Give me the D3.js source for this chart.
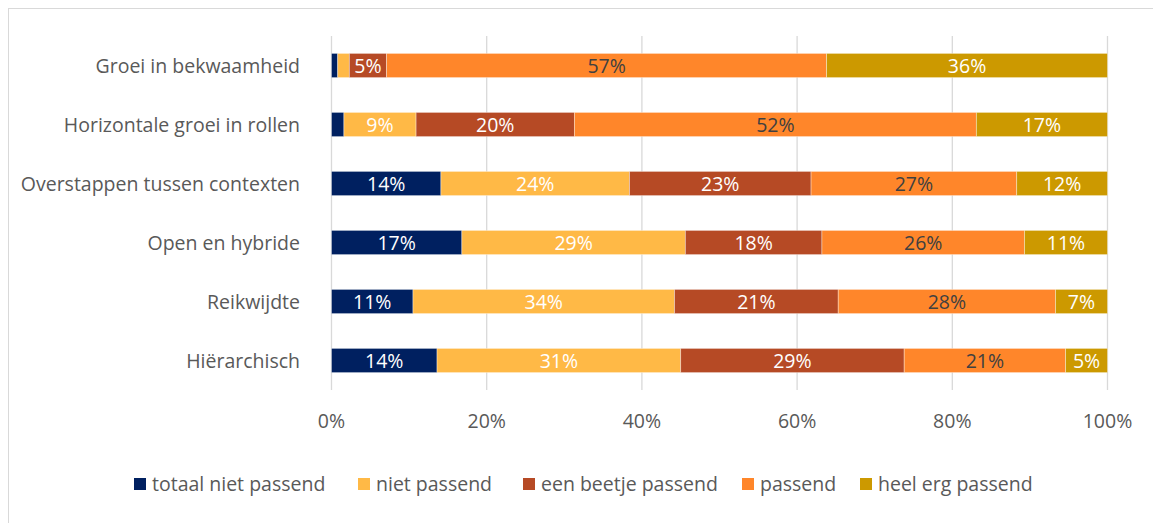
<!DOCTYPE html>
<html><head><meta charset="utf-8">
<script src="https://cdn.jsdelivr.net/npm/d3@7"></script>
<style>
body{margin:0;background:#fff;}
svg{display:block;font-family:"Open Sans", "Noto Sans", sans-serif;}
</style></head>
<body><svg id="c" width="1153" height="523"></svg>
<script>
const categories = ["Groei in bekwaamheid","Horizontale groei in rollen","Overstappen tussen contexten","Open en hybride","Reikwijdte","Hiërarchisch"];
const seriesNames = ["totaal niet passend","niet passend","een beetje passend","passend","heel erg passend"];
const seriesColors = ["#002060","#FFB946","#B64A25","#FF862A","#CC9900"];
const labelColors = ["#ffffff","#ffffff","#ffffff","#404040","#ffffff"];
const totaalNiet = [0.8,1.6,14.1,16.8,10.5,13.6];
const niet = [1.5,9.3,24.3,28.8,33.7,31.4];
const beetje = [4.8,20.4,23.4,17.6,21.1,28.8];
const passend = [56.7,51.8,26.5,26.1,28.0,20.8];
const heelErg = [36.2,16.9,11.7,10.7,6.7,5.4];
const xTicks = [0,20,40,60,80,100];

const FS = 19.5;
const values = [totaalNiet,niet,beetje,passend,heelErg];
const rows = categories.map((c,i)=>{const o={cat:c};seriesNames.forEach((s,j)=>o[s]=values[j][i]);return o;});
const stack = d3.stack().keys(seriesNames)(rows);

const svg = d3.select("#c");
svg.append("rect").attr("x",8.5).attr("y",8.5).attr("width",1160).attr("height",530)
  .attr("fill","none").attr("stroke","#d9d9d9").attr("stroke-width",1);

const x = d3.scaleLinear().domain([0,100]).range([331.5,1107.5]);
const y = d3.scaleBand().domain(categories).range([36,390]).paddingInner(0.59).paddingOuter(0.295);

svg.append("g").selectAll("line").data(xTicks).join("line")
  .attr("x1",d=>x(d)).attr("x2",d=>x(d)).attr("y1",36).attr("y2",390)
  .attr("stroke","#d9d9d9").attr("stroke-width",1.3);

svg.append("g").selectAll("text").data(xTicks).join("text")
  .attr("x",d=>x(d)).attr("y",428).attr("text-anchor","middle")
  .attr("font-size",FS).attr("fill","#595959").text(d=>d+"%");

svg.append("g").selectAll("text").data(categories).join("text")
  .attr("x",300).attr("y",d=>y(d)+y.bandwidth()/2+7).attr("text-anchor","end")
  .attr("font-size",FS).attr("fill","#595959").text(d=>d);

const g = svg.append("g");
stack.forEach((layer,j)=>{
  const lg = g.append("g");
  lg.selectAll("rect").data(layer).join("rect")
    .attr("x",d=>x(d[0])).attr("width",d=>x(d[1])-x(d[0]))
    .attr("y",d=>y(d.data.cat)).attr("height",y.bandwidth())
    .attr("fill",seriesColors[j]).attr("stroke","#ffffff").attr("stroke-opacity",0.45).attr("stroke-width",0.8);
  lg.selectAll("text").data(layer.filter(d=>d[1]-d[0]>=3)).join("text")
    .attr("x",d=>(x(d[0])+x(d[1]))/2).attr("y",d=>y(d.data.cat)+y.bandwidth()/2+7)
    .attr("text-anchor","middle").attr("font-size",FS).attr("fill",labelColors[j])
    .text(d=>Math.round(d[1]-d[0])+"%");
});

const legX = [134,358,523,742,860];
const lg = svg.append("g");
seriesNames.forEach((s,j)=>{
  lg.append("rect").attr("x",legX[j]).attr("y",478).attr("width",12).attr("height",12).attr("fill",seriesColors[j]);
  lg.append("text").attr("x",legX[j]+18).attr("y",491).attr("font-size",FS).attr("fill","#595959").text(s);
});
</script></body></html>
